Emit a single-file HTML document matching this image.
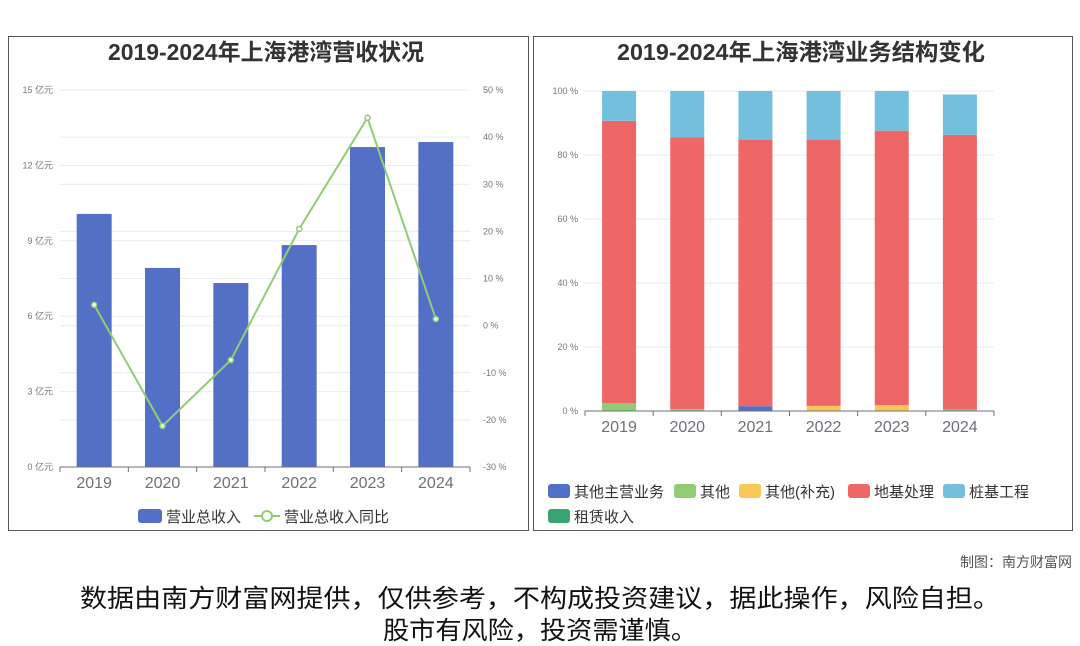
<!DOCTYPE html>
<html><head><meta charset="utf-8"><style>
html,body{margin:0;padding:0;background:#fff;}
svg{display:block;font-family:"Liberation Sans","Noto Sans CJK SC",sans-serif;}
</style></head><body>
<svg id="s" width="1080" height="646" viewBox="0 0 1080 646" xmlns="http://www.w3.org/2000/svg">
<rect x="8.5" y="36.5" width="520" height="494" fill="#fff" stroke="#555"/>
<rect x="533.5" y="36.5" width="539" height="494" fill="#fff" stroke="#555"/>
<text x="266" y="60" text-anchor="middle" font-size="23" font-weight="bold" fill="#333" textLength="316" lengthAdjust="spacingAndGlyphs">2019-2024年上海港湾营收状况</text>
<text x="801" y="60" text-anchor="middle" font-size="23" font-weight="bold" fill="#333" textLength="368" lengthAdjust="spacingAndGlyphs">2019-2024年上海港湾业务结构变化</text>
<g id="L"></g><g id="R"></g>
<text x="1072" y="567" text-anchor="end" font-size="14" fill="#555">制图：南方财富网</text>
<text x="540" y="607" text-anchor="middle" font-size="25" fill="#111" textLength="920" lengthAdjust="spacingAndGlyphs">数据由南方财富网提供，仅供参考，不构成投资建议，据此操作，风险自担。</text>
<text x="540" y="639" text-anchor="middle" font-size="25" fill="#111" textLength="314" lengthAdjust="spacingAndGlyphs">股市有风险，投资需谨慎。</text>
</svg>
<script>
const years=['2019','2020','2021','2022','2023','2024'];
const revenue=[10.07,7.92,7.32,8.83,12.73,12.93];
const growth=[4.4,-21.3,-7.3,20.5,44.1,1.4];
const leftTicks=[0,3,6,9,12,15];
const rightTicks=[-30,-20,-10,0,10,20,30,40,50];
const segNames=['其他主营业务','其他','其他(补充)','地基处理','桩基工程','租赁收入'];
const segColors=['#5470c6','#91cc75','#fac858','#ee6666','#73c0de','#3ba272'];
const segOtherMain=[0,0,1.5,0,0,0];
const segOther=[2.4,0.6,0,0,0,0.5];
const segOtherSup=[0,0,0,1.6,1.8,0];
const segGround=[88.3,84.9,83.2,83.2,85.8,85.8];
const segPile=[9.3,14.5,15.3,15.2,12.4,12.6];
const segLease=[0,0,0,0,0,0];
const pctTicks=[0,20,40,60,80,100];
const NS='http://www.w3.org/2000/svg';
function mk(p,t,a,txt){const e=document.createElementNS(NS,t);for(const k in a)e.setAttribute(k,a[k]);if(txt!==undefined)e.textContent=txt;p.appendChild(e);return e;}
// left chart
const L=document.getElementById('L');
const lx0=60,lx1=470,ly0=467,ly1=90;
const yL=v=>ly0-(v/15)*(ly0-ly1);
const yR=v=>ly0-((v+30)/80)*(ly0-ly1);
const bw=(lx1-lx0)/years.length;
const xc=i=>lx0+bw*(i+0.5);
rightTicks.forEach(t=>{let g=mk(L,'line',{x1:lx0,x2:lx1,y1:yR(t),y2:yR(t),stroke:'#e8ebf3'});


let e=mk(L,'text',{x:483,y:yR(t)+3,'font-size':9,fill:'#777'},t+' %');

});
leftTicks.forEach(t=>{let g=mk(L,'line',{x1:lx0,x2:lx1,y1:yL(t),y2:yL(t),stroke:'#e8ebf3'});


let e=mk(L,'text',{x:53,y:yL(t)+3,'font-size':9,fill:'#777','text-anchor':'end'},t+' 亿元');

});
revenue.forEach((v,i)=>{let r=mk(L,'rect',{x:xc(i)-17.5,y:yL(v),width:35,height:ly0-yL(v),fill:'#5470c6'});

});
mk(L,'line',{x1:lx0,x2:lx1,y1:ly0,y2:ly0,stroke:'#6e7079'});
years.forEach((y,i)=>{mk(L,'line',{x1:lx0+bw*i,x2:lx0+bw*i,y1:ly0,y2:ly0+5,stroke:'#6e7079'});
let e=mk(L,'text',{x:xc(i),y:488,'font-size':16,fill:'#6e7079','text-anchor':'middle'},y);

});
mk(L,'line',{x1:lx1,x2:lx1,y1:ly0,y2:ly0+5,stroke:'#6e7079'});
let pl=mk(L,'polyline',{points:growth.map((v,i)=>xc(i)+','+yR(v)).join(' '),fill:'none',stroke:'#91cc75','stroke-width':2});


growth.forEach((v,i)=>{let c=mk(L,'circle',{cx:xc(i),cy:yR(v),r:2.5,fill:'#fff',stroke:'#91cc75','stroke-width':1.5});

});
let lg1=mk(L,'rect',{x:138,y:509,width:24,height:14,rx:3,fill:'#5470c6'});


let lt1=mk(L,'text',{x:166,y:522,'font-size':15,fill:'#333'},'营业总收入');


mk(L,'line',{x1:254,x2:280,y1:516,y2:516,stroke:'#91cc75','stroke-width':2});
mk(L,'circle',{cx:267,cy:516,r:5,fill:'#fff',stroke:'#91cc75','stroke-width':2});
let lt2=mk(L,'text',{x:284,y:522,'font-size':15,fill:'#333'},'营业总收入同比');


// right chart
const R=document.getElementById('R');
const rx0=585,rx1=994,ry0=411,ry1=91;
const yP=v=>ry0-(v/100)*(ry0-ry1);
const rbw=(rx1-rx0)/years.length;
const rxc=i=>rx0+rbw*(i+0.5);
pctTicks.forEach(t=>{let g=mk(R,'line',{x1:rx0,x2:rx1,y1:yP(t),y2:yP(t),stroke:'#e8ebf3'});


let e=mk(R,'text',{x:578,y:yP(t)+3,'font-size':9,fill:'#777','text-anchor':'end'},t+' %');

});
const series=[segOtherMain,segOther,segOtherSup,segGround,segPile,segLease];
years.forEach((y,i)=>{let acc=0;series.forEach((s,k)=>{const v=s[i];if(v>0){let r=mk(R,'rect',{x:rxc(i)-17,y:yP(acc+v),width:34,height:yP(acc)-yP(acc+v),fill:segColors[k]});

}acc+=v;});});
mk(R,'line',{x1:rx0,x2:rx1,y1:ry0,y2:ry0,stroke:'#6e7079'});
years.forEach((y,i)=>{mk(R,'line',{x1:rx0+rbw*i,x2:rx0+rbw*i,y1:ry0,y2:ry0+5,stroke:'#6e7079'});
let e=mk(R,'text',{x:rxc(i),y:432,'font-size':16,fill:'#6e7079','text-anchor':'middle'},y);

});
mk(R,'line',{x1:rx1,x2:rx1,y1:ry0,y2:ry0+5,stroke:'#6e7079'});
const lgx=[548,674,739,848,943,548],lgy=[491,491,491,491,491,516];
segNames.forEach((n,k)=>{let r=mk(R,'rect',{x:lgx[k],y:lgy[k]-7,width:22,height:14,rx:3,fill:segColors[k]});


let t=mk(R,'text',{x:lgx[k]+26,y:lgy[k]+6,'font-size':15,fill:'#333'},n);

});
</script>
</body></html>
